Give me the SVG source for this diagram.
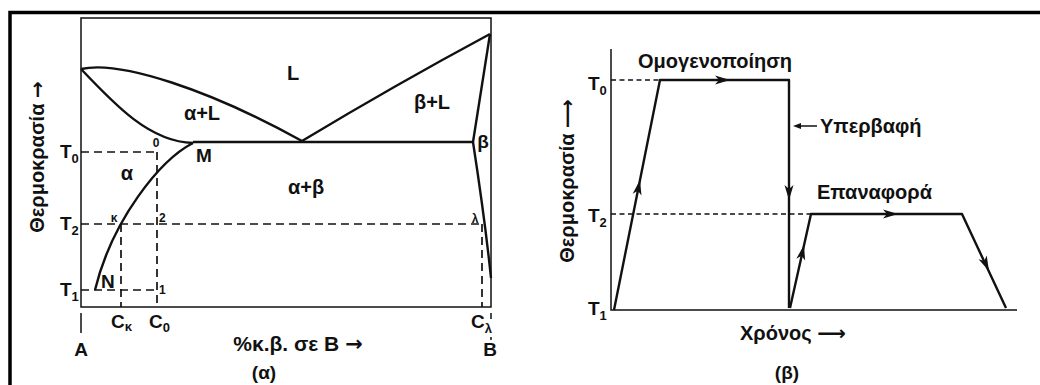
<svg xmlns="http://www.w3.org/2000/svg" xmlns:xlink="http://www.w3.org/1999/xlink" width="1040" height="385" viewBox="0 0 1040 385">
<style>
text{font-family:"Liberation Sans",Arial,"DejaVu Sans",sans-serif;font-weight:bold;fill:#111}
.lbl{font-size:19px}
.big{font-size:20px}
.sm{font-size:12px}
.sub{font-size:13px}
.mid{text-anchor:middle}
.arr{font-family:"DejaVu Sans",sans-serif}
.curve{fill:none;stroke:#111;stroke-width:2.4;stroke-linejoin:round}
.thin{fill:none;stroke:#111;stroke-width:1.5}
.dash{fill:none;stroke:#111;stroke-width:1.7;stroke-dasharray:8 5}
.dash2{fill:none;stroke:#111;stroke-width:1.5;stroke-dasharray:5 3.5}
</style>
<defs>
<path id="ah" d="M0,0 L-15,-4.5 L-11,0 L-15,4.5 Z" fill="#111"/>
</defs>
<rect width="1040" height="385" fill="#fff"/>
<rect x="10" y="12.5" width="1100" height="500" fill="none" stroke="#000" stroke-width="3.5"/>

<g id="diagram-a">
  <g id="phase-box">
    <rect x="81" y="18" width="410" height="289" class="thin"/>
  </g>
  <g id="phase-curves">
    <path class="curve" d="M81,69 C120,60 210,90 302,141"/>
    <path class="curve" d="M81,69 C115,105 150,142 193,143"/>
    <path class="curve" d="M193,142 L473,142"/>
    <path class="curve" d="M193,143 C160,160 112,220 95,290"/>
    <path class="curve" d="M302,141 Q395,85 490,34"/>
    <path class="curve" d="M490,34 L473,142"/>
    <path class="curve" d="M473,142 Q485,220 491,278"/>
  </g>
  <g id="phase-dashes">
    <path class="dash" d="M81,152 H157 M157,152 V307"/>
    <path class="dash" d="M81,224 H482 M121,224 V307 M482,224 V307"/>
    <path class="dash" d="M81,290 H157"/>
    <path class="thin" d="M81,313 V333 M491,313 V319 M491,337 V340"/>
  </g>
  <g id="phase-labels">
    <text class="big mid" x="293" y="80">L</text>
    <text class="big mid" x="202" y="120">α+L</text>
    <text class="big mid" x="432" y="109">β+L</text>
    <text class="lbl mid" x="483" y="148">β</text>
    <text class="big mid" x="306" y="194">α+β</text>
    <text class="big mid" x="127" y="180">α</text>
    <text class="lbl" x="196" y="162">M</text>
    <text class="lbl" x="101" y="288">N</text>
    <text class="sm mid" x="156" y="147">0</text>
    <text class="sm mid" x="114" y="222">κ</text>
    <text class="sm" x="159" y="222">2</text>
    <text class="sm" x="159" y="294">1</text>
    <text class="sm mid" x="475" y="223">λ</text>
    <text class="lbl" x="60" y="158">T<tspan class="sub" dy="5">0</tspan></text>
    <text class="lbl" x="60" y="230">T<tspan class="sub" dy="5">2</tspan></text>
    <text class="lbl" x="60" y="296">T<tspan class="sub" dy="5">1</tspan></text>
    <text class="lbl" x="111" y="328">C<tspan class="sub" dy="3">κ</tspan></text>
    <text class="lbl" x="149" y="328">C<tspan class="sub" dy="4">0</tspan></text>
    <text class="lbl" x="471" y="328">C<tspan class="sub" dy="5">λ</tspan></text>
    <text class="lbl mid" x="81" y="356">A</text>
    <text class="lbl mid" x="490" y="356">B</text>
    <text class="mid" font-size="21" x="298" y="351">%κ.β. σε B <tspan class="arr">→</tspan></text>
    <text class="lbl mid" x="264" y="379">(α)</text>
    <text class="big mid" transform="translate(44,157) rotate(-90)">Θερμοκρασία <tspan class="arr">→</tspan></text>
  </g>
</g>

<g id="diagram-b">
  <g id="axes-b">
    <path class="thin" d="M611,49 V310 H1017"/>
    <path class="dash2" d="M611,80 H660"/>
    <path class="dash2" d="M611,214 H811"/>
  </g>
  <g id="connectors">
    <path class="curve" d="M614,310 L660,80 L789,80 L789,308"/>
    <path class="curve" d="M790,308 L811,214 L962,214 L1006,308"/>
    <use xlink:href="#ah" transform="translate(640,180) rotate(-78.7)"/>
    <use xlink:href="#ah" transform="translate(730,80)"/>
    <use xlink:href="#ah" transform="translate(789,200) rotate(90)"/>
    <use xlink:href="#ah" transform="translate(804,245) rotate(-77.4)"/>
    <use xlink:href="#ah" transform="translate(898,214)"/>
    <use xlink:href="#ah" transform="translate(989,271) rotate(64.9)"/>
    <path class="thin" d="M817,126 H797"/>
    <path d="M793,126 L801,123 L801,129 Z" fill="#111"/>
  </g>
  <g id="labels-b">
    <text class="big" x="638" y="68">Ομογενοποίηση</text>
    <text class="big" x="820" y="133">Υπερβαφή</text>
    <text class="big" x="817" y="199">Επαναφορά</text>
    <text class="lbl" x="588" y="90">T<tspan class="sub" dy="5">0</tspan></text>
    <text class="lbl" x="588" y="222">T<tspan class="sub" dy="5">2</tspan></text>
    <text class="lbl" x="588" y="315">T<tspan class="sub" dy="5">1</tspan></text>
    <text class="big" x="740" y="340">Χρόνος <tspan class="arr">⟶</tspan></text>
    <text class="lbl mid" x="787" y="379">(β)</text>
    <text class="big mid" transform="translate(574,181) rotate(-90)">Θερμοκρασία <tspan class="arr">⟶</tspan></text>
  </g>
</g>
</svg>
